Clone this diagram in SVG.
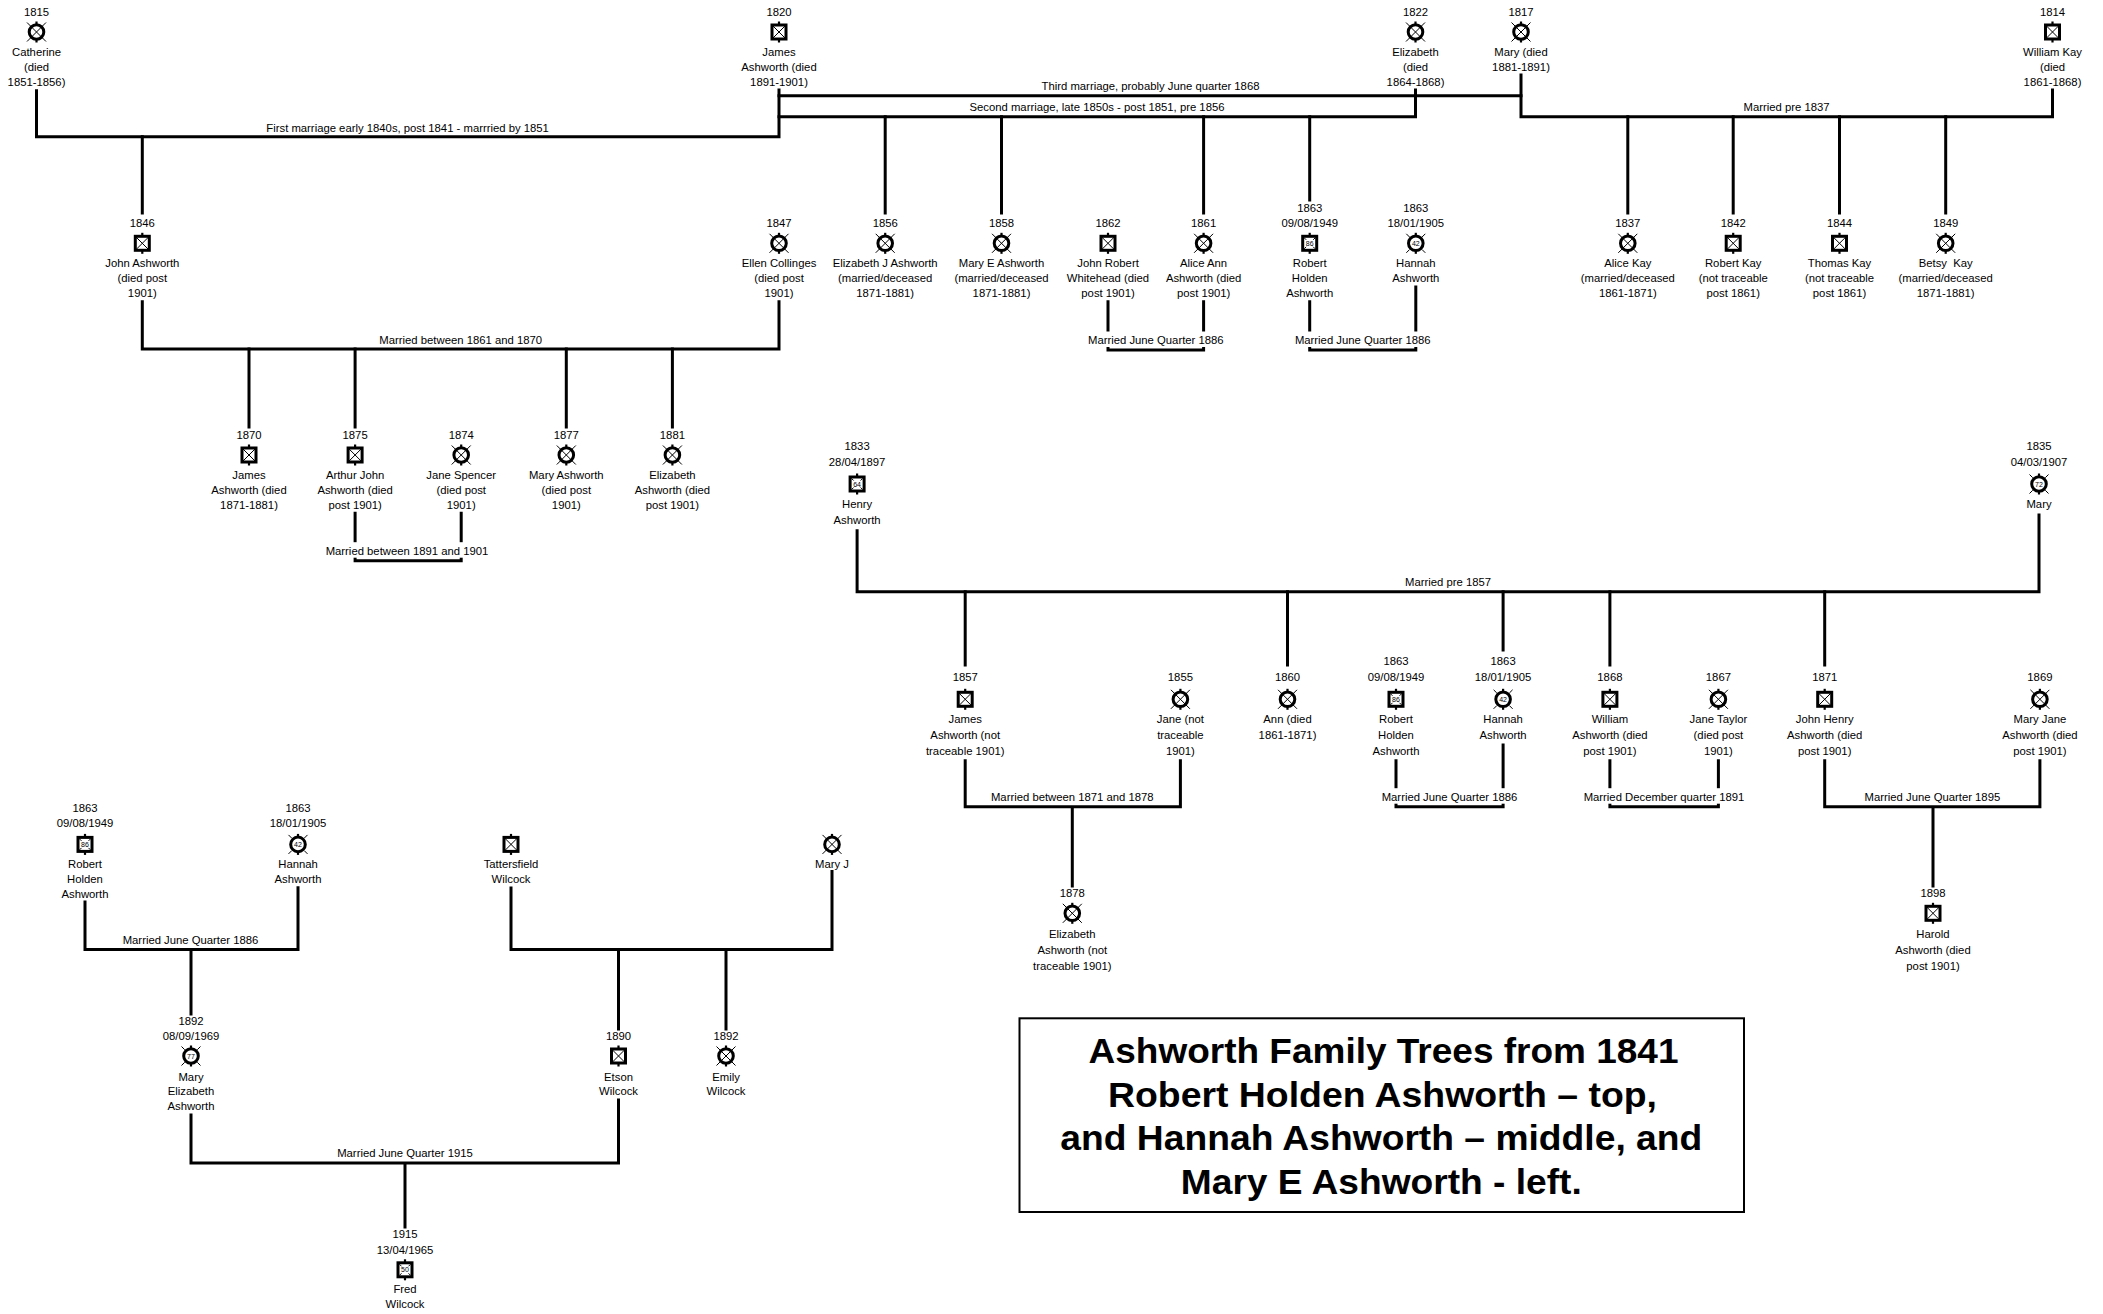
<svg xmlns="http://www.w3.org/2000/svg" width="2103" height="1314" viewBox="0 0 2103 1314">
<style>
text{font-family:"Liberation Sans",Arial,sans-serif;font-size:11.3px;text-anchor:middle;fill:#000}
.c path{fill:none;stroke:#000;stroke-width:3;stroke-linecap:square}
.bg{fill:#fff}
.age{font-size:7px}
.title{font-size:35px;font-weight:bold}
.stub{stroke:#000;stroke-width:2.2;fill:none}
.sh{fill:#fff;stroke:#000;stroke-width:3}
.x{stroke:#000;stroke-width:1;fill:none}
</style>
<defs>
<g id="bx"><path class="stub" d="M0-10.5V10.5"/><rect class="sh" x="-7" y="-7" width="14" height="14"/><path class="x" d="M-7-7L7 7M7-7L-7 7"/></g>
<g id="cx"><path class="stub" d="M0-10.5V10.5"/><circle class="sh" r="7.3"/><path class="x" d="M-9.5-9.5L9.5 9.5M9.5-9.5L-9.5 9.5"/></g>
<g id="ba"><path class="stub" d="M0-10.5V10.5"/><rect class="sh" x="-7" y="-7" width="14" height="14"/><path class="x" d="M-5.5-5.5l2 2M5.5-5.5l-2 2M-5.5 5.5l2-2M5.5 5.5l-2-2"/></g>
<g id="ca"><path class="stub" d="M0-10.5V10.5"/><circle class="sh" r="7.3"/><path class="x" d="M-9.5-9.5l3.2 3.2M9.5-9.5l-3.2 3.2M-9.5 9.5l3.2-3.2M9.5 9.5l-3.2-3.2"/></g>
</defs>
<rect width="2103" height="1314" fill="#fff"/>

<g id="connectors" class="c">
<path d="M36.5 90.7V136.7H779V90"/>
<path d="M779 95.7H1521"/>
<path d="M779 116.7H1415.5V90"/>
<path d="M1521 75V116.7H2052.5V90"/>
<path d="M142.3 136.7V213"/>
<path d="M885.2 116.7V213M1001.5 116.7V213M1203.6 116.7V213M1309.7 116.7V200"/>
<path d="M1627.8 116.7V213M1733.2 116.7V213M1839.5 116.7V213M1945.7 116.7V213"/>
<path d="M142.3 301.7V349H779V301.7"/>
<path d="M249 349V427M355.1 349V427M566.3 349V427M672.4 349V427"/>
<path d="M1108 301.7V350H1203.6V301.7"/>
<path d="M1309.7 301.7V350H1415.8V287"/>
<path d="M355.1 513.3V560.7H461.2V513.3"/>
<path d="M857.1 530.7V591.7H2039V515"/>
<path d="M965.2 591.7V665M1287.5 591.7V665M1503.1 591.7V650M1609.9 591.7V665M1824.7 591.7V665"/>
<path d="M965.2 760.7V806.7H1180.4V760.7M1072.3 806.7V886"/>
<path d="M1396 760.7V806.7H1503.1V745"/>
<path d="M1609.9 760.7V806.7H1718.4V760.7"/>
<path d="M1824.7 760.7V806.7H2039.9V760.7M1933 806.7V886"/>
<path d="M85 902V949.5H298V887.8M191 949.5V1014"/>
<path d="M511 888V949.5H832V871.5M618.5 949.5V1029M726 949.5V1029"/>
<path d="M191 1115V1163H618.5V1100M405 1163V1227"/>
</g>

<g id="labels">
<text x="407.6" y="132.3">First marriage early 1840s, post 1841 - marrried by 1851</text>
<text x="1150.5" y="90">Third marriage, probably June quarter 1868</text>
<text x="1097" y="111">Second marriage, late 1850s - post 1851, pre 1856</text>
<text x="1786.5" y="111">Married pre 1837</text>
<text x="460.7" y="344">Married between 1861 and 1870</text>
<rect class="bg" x="1087.8" y="331.5" width="136" height="15.5"/>
<text x="1155.8" y="344">Married June Quarter 1886</text>
<rect class="bg" x="1294.7" y="331.5" width="136" height="15.5"/>
<text x="1362.7" y="344">Married June Quarter 1886</text>
<rect class="bg" x="325.5" y="542.2" width="163" height="15.5"/>
<text x="407" y="554.7">Married between 1891 and 1901</text>
<text x="1448" y="586.3">Married pre 1857</text>
<text x="1072.3" y="800.7">Married between 1871 and 1878</text>
<rect class="bg" x="1381.5" y="788.2" width="136" height="15.5"/>
<text x="1449.5" y="800.7">Married June Quarter 1886</text>
<rect class="bg" x="1583.5" y="788.2" width="161" height="15.5"/>
<text x="1664" y="800.7">Married December quarter 1891</text>
<text x="1932.4" y="800.7">Married June Quarter 1895</text>
<text x="190.5" y="944">Married June Quarter 1886</text>
<text x="405" y="1157">Married June Quarter 1915</text>
</g>

<!-- Top row -->
<g id="catherine" transform="translate(36.5,0)"><text y="16">1815</text><use href="#cx" y="32"/><text y="56">Catherine</text><text y="71">(died</text><text y="86">1851-1856)</text></g>
<g id="james1820" transform="translate(779,0)"><text y="16">1820</text><use href="#bx" y="32"/><text y="56">James</text><text y="71">Ashworth (died</text><text y="86">1891-1901)</text></g>
<g id="elizabeth1822" transform="translate(1415.5,0)"><text y="16">1822</text><use href="#cx" y="32"/><text y="56">Elizabeth</text><text y="71">(died</text><text y="86">1864-1868)</text></g>
<g id="mary1817" transform="translate(1521,0)"><text y="16">1817</text><use href="#cx" y="32"/><text y="56">Mary (died</text><text y="71">1881-1891)</text></g>
<g id="williamkay" transform="translate(2052.5,0)"><text y="16">1814</text><use href="#bx" y="32"/><text y="56">William Kay</text><text y="71">(died</text><text y="86">1861-1868)</text></g>

<!-- Row 2 -->
<g id="johnashworth" transform="translate(142.3,0)"><text y="226.7">1846</text><use href="#bx" y="243.3"/><text y="267.3">John Ashworth</text><text y="282.3">(died post</text><text y="297.3">1901)</text></g>
<g id="ellen" transform="translate(779,0)"><text y="226.7">1847</text><use href="#cx" y="243.3"/><text y="267.3">Ellen Collinges</text><text y="282.3">(died post</text><text y="297.3">1901)</text></g>
<g id="elizabethj" transform="translate(885.2,0)"><text y="226.7">1856</text><use href="#cx" y="243.3"/><text y="267.3">Elizabeth J Ashworth</text><text y="282.3">(married/deceased</text><text y="297.3">1871-1881)</text></g>
<g id="marye" transform="translate(1001.5,0)"><text y="226.7">1858</text><use href="#cx" y="243.3"/><text y="267.3">Mary E Ashworth</text><text y="282.3">(married/deceased</text><text y="297.3">1871-1881)</text></g>
<g id="whitehead" transform="translate(1108,0)"><text y="226.7">1862</text><use href="#bx" y="243.3"/><text y="267.3">John Robert</text><text y="282.3">Whitehead (died</text><text y="297.3">post 1901)</text></g>
<g id="aliceann" transform="translate(1203.6,0)"><text y="226.7">1861</text><use href="#cx" y="243.3"/><text y="267.3">Alice Ann</text><text y="282.3">Ashworth (died</text><text y="297.3">post 1901)</text></g>
<g id="robert1" transform="translate(1309.7,0)"><text y="212.3">1863</text><text y="227.3">09/08/1949</text><use href="#ba" y="243.3"/><text class="age" y="245.8">86</text><text y="267.3">Robert</text><text y="282.3">Holden</text><text y="297.3">Ashworth</text></g>
<g id="hannah1" transform="translate(1415.8,0)"><text y="212.3">1863</text><text y="227.3">18/01/1905</text><use href="#ca" y="243.3"/><text class="age" y="245.8">42</text><text y="267.3">Hannah</text><text y="282.3">Ashworth</text></g>
<g id="alicekay" transform="translate(1627.8,0)"><text y="226.7">1837</text><use href="#cx" y="243.3"/><text y="267.3">Alice Kay</text><text y="282.3">(married/deceased</text><text y="297.3">1861-1871)</text></g>
<g id="robertkay" transform="translate(1733.2,0)"><text y="226.7">1842</text><use href="#bx" y="243.3"/><text y="267.3">Robert Kay</text><text y="282.3">(not traceable</text><text y="297.3">post 1861)</text></g>
<g id="thomaskay" transform="translate(1839.5,0)"><text y="226.7">1844</text><use href="#bx" y="243.3"/><text y="267.3">Thomas Kay</text><text y="282.3">(not traceable</text><text y="297.3">post 1861)</text></g>
<g id="betsykay" transform="translate(1945.7,0)"><text y="226.7">1849</text><use href="#cx" y="243.3"/><text y="267.3" xml:space="preserve">Betsy  Kay</text><text y="282.3">(married/deceased</text><text y="297.3">1871-1881)</text></g>

<!-- Row 3 -->
<g id="james1870" transform="translate(249,0)"><text y="439">1870</text><use href="#bx" y="455"/><text y="479">James</text><text y="494">Ashworth (died</text><text y="509">1871-1881)</text></g>
<g id="arthurjohn" transform="translate(355.1,0)"><text y="439">1875</text><use href="#bx" y="455"/><text y="479">Arthur John</text><text y="494">Ashworth (died</text><text y="509">post 1901)</text></g>
<g id="janespencer" transform="translate(461.2,0)"><text y="439">1874</text><use href="#cx" y="455"/><text y="479">Jane Spencer</text><text y="494">(died post</text><text y="509">1901)</text></g>
<g id="maryashworth" transform="translate(566.3,0)"><text y="439">1877</text><use href="#cx" y="455"/><text y="479">Mary Ashworth</text><text y="494">(died post</text><text y="509">1901)</text></g>
<g id="elizabeth1881" transform="translate(672.4,0)"><text y="439">1881</text><use href="#cx" y="455"/><text y="479">Elizabeth</text><text y="494">Ashworth (died</text><text y="509">post 1901)</text></g>

<!-- Middle tree -->
<g id="henry" transform="translate(857.1,0)"><text y="450">1833</text><text y="465.7">28/04/1897</text><use href="#ba" y="484"/><text class="age" y="486.5">64</text><text y="508">Henry</text><text y="524">Ashworth</text></g>
<g id="mary1835" transform="translate(2039,0)"><text y="450">1835</text><text y="465.7">04/03/1907</text><use href="#ca" y="484"/><text class="age" y="486.5">72</text><text y="508">Mary</text></g>
<g id="james1857" transform="translate(965.2,0)"><text y="681">1857</text><use href="#bx" y="699.3"/><text y="723">James</text><text y="739">Ashworth (not</text><text y="755">traceable 1901)</text></g>
<g id="jane1855" transform="translate(1180.4,0)"><text y="681">1855</text><use href="#cx" y="699.3"/><text y="723">Jane (not</text><text y="739">traceable</text><text y="755">1901)</text></g>
<g id="ann" transform="translate(1287.5,0)"><text y="681">1860</text><use href="#cx" y="699.3"/><text y="723">Ann (died</text><text y="739">1861-1871)</text></g>
<g id="robert2" transform="translate(1396,0)"><text y="664.7">1863</text><text y="681">09/08/1949</text><use href="#ba" y="699.3"/><text class="age" y="701.8">86</text><text y="723">Robert</text><text y="739">Holden</text><text y="755">Ashworth</text></g>
<g id="hannah2" transform="translate(1503.1,0)"><text y="664.7">1863</text><text y="681">18/01/1905</text><use href="#ca" y="699.3"/><text class="age" y="701.8">42</text><text y="723">Hannah</text><text y="739">Ashworth</text></g>
<g id="william" transform="translate(1609.9,0)"><text y="681">1868</text><use href="#bx" y="699.3"/><text y="723">William</text><text y="739">Ashworth (died</text><text y="755">post 1901)</text></g>
<g id="janetaylor" transform="translate(1718.4,0)"><text y="681">1867</text><use href="#cx" y="699.3"/><text y="723">Jane Taylor</text><text y="739">(died post</text><text y="755">1901)</text></g>
<g id="johnhenry" transform="translate(1824.7,0)"><text y="681">1871</text><use href="#bx" y="699.3"/><text y="723">John Henry</text><text y="739">Ashworth (died</text><text y="755">post 1901)</text></g>
<g id="maryjane" transform="translate(2039.9,0)"><text y="681">1869</text><use href="#cx" y="699.3"/><text y="723">Mary Jane</text><text y="739">Ashworth (died</text><text y="755">post 1901)</text></g>
<g id="elizabeth1878" transform="translate(1072.3,0)"><text y="896.7">1878</text><use href="#cx" y="913.3"/><text y="938.3">Elizabeth</text><text y="954.3">Ashworth (not</text><text y="970.3">traceable 1901)</text></g>
<g id="harold" transform="translate(1933,0)"><text y="896.7">1898</text><use href="#bx" y="913.3"/><text y="938.3">Harold</text><text y="954.3">Ashworth (died</text><text y="970.3">post 1901)</text></g>

<!-- Bottom-left tree -->
<g id="robert3" transform="translate(85,0)"><text y="812">1863</text><text y="827">09/08/1949</text><use href="#ba" y="844.4"/><text class="age" y="846.9">86</text><text y="867.7">Robert</text><text y="882.6">Holden</text><text y="897.6">Ashworth</text></g>
<g id="hannah3" transform="translate(298,0)"><text y="812">1863</text><text y="827">18/01/1905</text><use href="#ca" y="844.4"/><text class="age" y="846.9">42</text><text y="867.7">Hannah</text><text y="882.6">Ashworth</text></g>
<g id="tattersfield" transform="translate(511,0)"><use href="#bx" y="844.4"/><text y="867.7">Tattersfield</text><text y="882.6">Wilcock</text></g>
<g id="maryj" transform="translate(832,0)"><use href="#cx" y="844.4"/><text y="867.7">Mary J</text></g>
<g id="maryelizabeth" transform="translate(191,0)"><text y="1024.7">1892</text><text y="1039.8">08/09/1969</text><use href="#ca" y="1056"/><text class="age" y="1058.5">77</text><text y="1080.6">Mary</text><text y="1095">Elizabeth</text><text y="1110">Ashworth</text></g>
<g id="etson" transform="translate(618.5,0)"><text y="1039.8">1890</text><use href="#bx" y="1056"/><text y="1080.6">Etson</text><text y="1095">Wilcock</text></g>
<g id="emily" transform="translate(726,0)"><text y="1039.8">1892</text><use href="#cx" y="1056"/><text y="1080.6">Emily</text><text y="1095">Wilcock</text></g>
<g id="fred" transform="translate(405,0)"><text y="1237.6">1915</text><text y="1253.5">13/04/1965</text><use href="#ba" y="1269.8"/><text class="age" y="1272.3">50</text><text y="1293">Fred</text><text y="1307.7">Wilcock</text></g>

<g id="title">
<rect x="1019.5" y="1018.3" width="724.5" height="193.7" fill="none" stroke="#000" stroke-width="2"/>
<text class="title" x="1383.5" y="1063" textLength="590" lengthAdjust="spacingAndGlyphs">Ashworth Family Trees from 1841</text>
<text class="title" x="1382.5" y="1106.5" textLength="549" lengthAdjust="spacingAndGlyphs">Robert Holden Ashworth – top,</text>
<text class="title" x="1381.3" y="1150" textLength="642" lengthAdjust="spacingAndGlyphs">and Hannah Ashworth – middle, and</text>
<text class="title" x="1381.3" y="1193.5" textLength="401" lengthAdjust="spacingAndGlyphs">Mary E Ashworth - left.</text>
</g>
</svg>
